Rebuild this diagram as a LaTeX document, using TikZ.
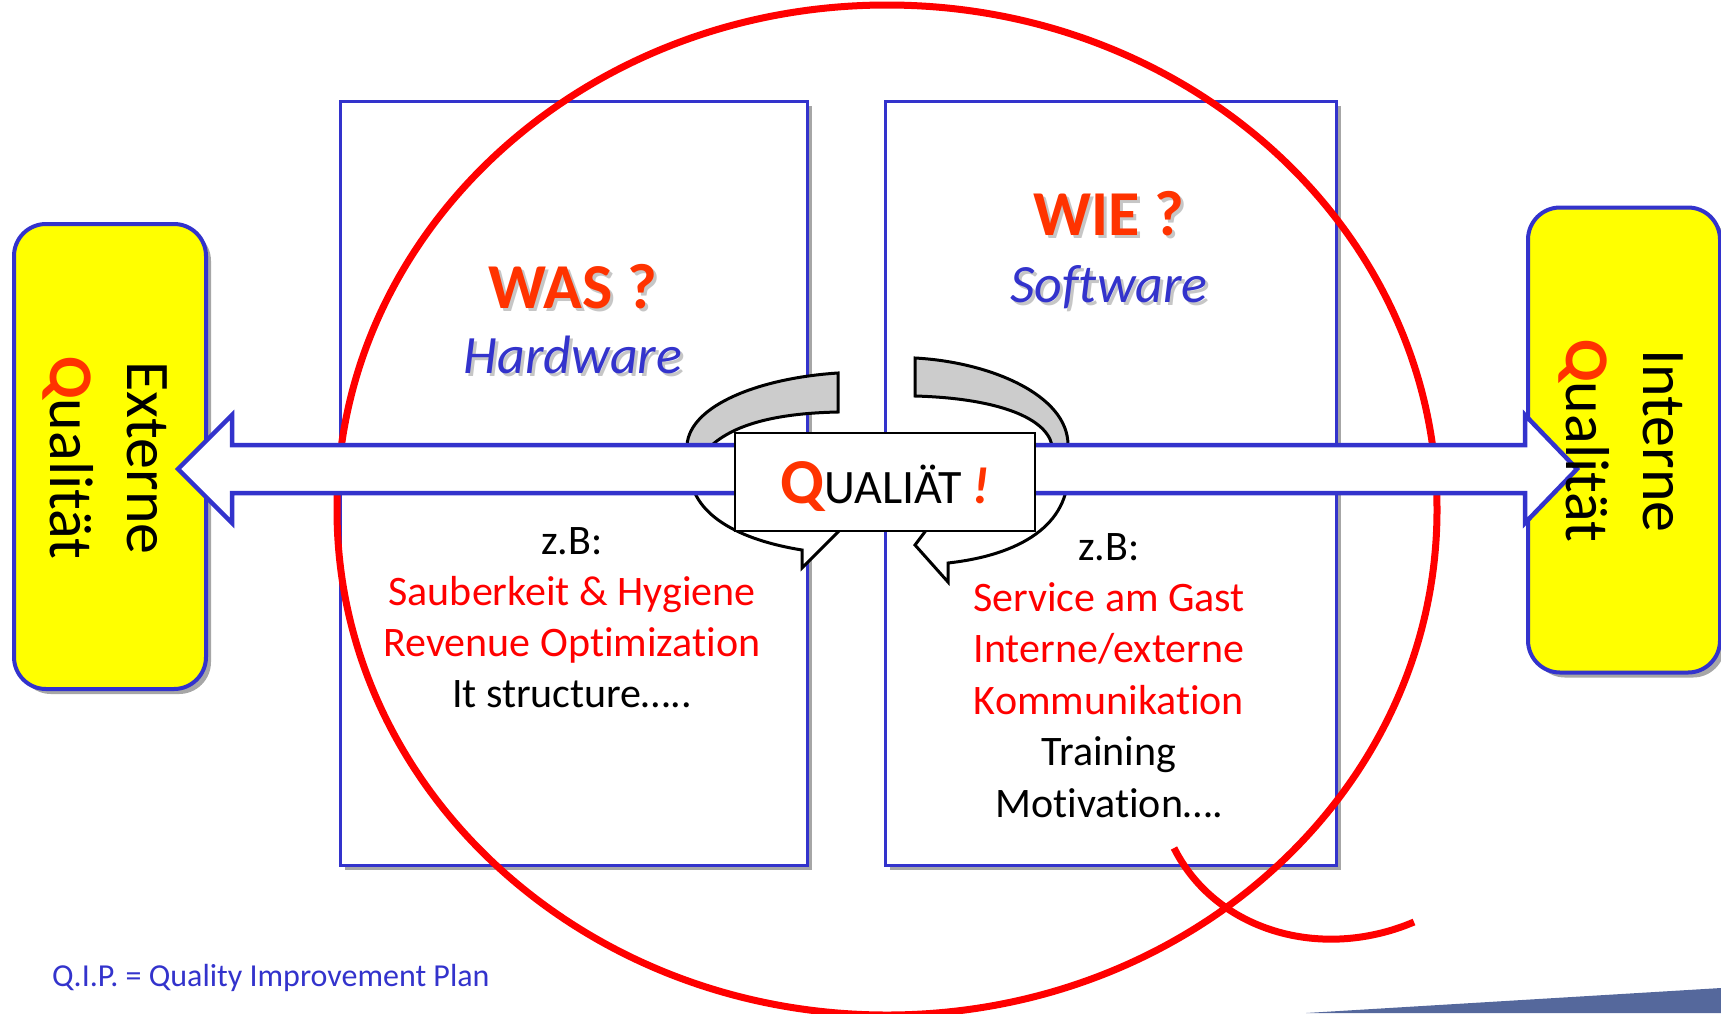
\documentclass[tikz,border=0pt]{standalone}
\usepackage{fontspec}
\setmainfont{Carlito}[Ligatures=NoCommon]
\usepackage{tikz}
\usetikzlibrary{shadows}

\definecolor{qblue}{HTML}{3333CC}
\definecolor{qorange}{HTML}{FF3300}
\definecolor{qyellow}{HTML}{FFFF00}
\definecolor{qband}{HTML}{CCCCCC}
\definecolor{qbar}{HTML}{55689C}

\newcommand{\withshadow}[1]{\makebox[0pt][l]{\hspace{3pt}\raisebox{-3pt}{\textcolor{gray!45}{#1}}}#1}

\begin{document}
\begin{tikzpicture}[x=1pt, y=-1pt,
    panel/.style={draw=qblue, line width=3pt, fill=white, inner sep=0,
      minimum width=#1, minimum height=764,
      drop shadow={shadow xshift=5pt, shadow yshift=-5pt, fill=gray!70, opacity=1}},
    sidebox/.style={draw=qblue, line width=4pt, fill=qyellow, rounded corners=32pt,
      inner sep=0, minimum width=192, minimum height=465,
      drop shadow={shadow xshift=5pt, shadow yshift=-5pt, fill=gray!70, opacity=1}},
    qring/.style={draw=red, line width=7pt},
    band/.style={draw=black, line width=3pt, fill=qband, line join=miter},
    backband/.style={draw=black, line width=3pt, fill=white, line join=miter},
    bigarrow/.style={draw=qblue, line width=4.5pt, fill=white, line join=miter},
    qbox/.style={draw=black, line width=1.5pt, fill=white, inner sep=0,
      minimum width=300, minimum height=98},
    title/.style={anchor=base, inner sep=0, text=qorange,
      font=\bfseries\fontsize{64}{70}\selectfont},
    subtitle/.style={anchor=base, inner sep=0, text=qblue,
      font=\itshape\fontsize{54}{60}\selectfont},
    listline/.style={anchor=base, inner sep=0, font=\fontsize{42}{51}\selectfont},
    sidetext/.style={rotate=-90, align=center, inner sep=0,
      font=\fontsize{62}{77}\selectfont}]
  \useasboundingbox (0,0) rectangle (1721,1013);

  % corner bar
  \fill[qbar] (1306,1013) -- (1721,988) -- (1721,1013) -- cycle;

  % panels
  \node[panel=467] (was) at (573.5,483) {};
  \node[panel=451] (wie) at (1110.5,483) {};

  % side boxes
  \node[sidebox] (ext) at (110,456.5) {};
  \node[sidebox] (int) at (1624,440) {};

  % the big Q
  \draw[qring] (887,510) ellipse [x radius=550pt, y radius=505pt];
  \draw[qring] (1174,848) .. controls (1215,930) and (1320,962) .. (1414,922);

  % circular arrows
  \draw[backband] (690,470) .. controls (690,515) and (740,540) .. (802,550)
    -- (802,568) -- (840,530) -- (745,490) -- cycle;
  \draw[band] (838,373) .. controls (760,378) and (690,405) .. (687,445)
    -- (687,470) -- (712,470) -- (712,445)
    .. controls (740,420) and (790,413) .. (838,412) -- cycle;
  \draw[backband] (1068,470) .. controls (1070,525) and (1020,555) .. (948,563)
    -- (948,582) -- (915,545) -- (930,525) -- (1030,490) -- cycle;
  \draw[band] (915,358) .. controls (990,362) and (1068,395) .. (1068,445)
    -- (1068,470) -- (1052,470) -- (1052,445)
    .. controls (1045,415) and (990,398) .. (915,396) -- cycle;

  % double arrow
  \draw[bigarrow] (178,469) -- (232,415) -- (232,445) -- (1525,445) -- (1525,415)
    -- (1577,469) -- (1525,523) -- (1525,493) -- (232,493) -- (232,523) -- cycle;

  % centre label
  \node[qbox] (qual) at (885,482) {};
  \node[anchor=base, inner sep=0] (qual-txt) at (885,503)
    {{\bfseries\fontsize{64}{64}\selectfont\textcolor{qorange}{Q}}\fontsize{48}{48}\selectfont
     UALIÄT \textcolor{qorange}{\bfseries\itshape\fontsize{52}{52}\selectfont !}};

  % titles
  \node[title] (was-t) at (573,308) {\withshadow{WAS ?}};
  \node[subtitle] (was-s) at (573,373) {\withshadow{Hardware}};
  \node[title] (wie-t) at (1109,235) {\withshadow{WIE ?}};
  \node[subtitle] (wie-s) at (1109,302) {\withshadow{Software}};

  % examples
  \foreach \txt/\col [count=\i from 0] in {z.B:/black, Sauberkeit \& Hygiene/red,
      Revenue Optimization/red, It structure…../black}
    \node[listline, text=\col] (hw-\i) at (572,{554+51*\i}) {\txt};
  \foreach \txt/\col [count=\i from 0] in {z.B:/black, Service am Gast/red,
      {Interne/externe}/red, Kommunikation/red, Training/black, Motivation…./black}
    \node[listline, text=\col] (sw-\i) at (1109,{560+51.4*\i}) {\txt};

  % side labels
  \node[sidetext] (ext-txt) at (105,458) {Externe\\\textcolor{qorange}{\bfseries Q}ualität};
  \node[sidetext] (int-txt) at (1621,441) {Interne\\\textcolor{qorange}{\bfseries Q}ualität};

  \node[anchor=base west, inner sep=0, text=qblue, font=\fontsize{32}{38}\selectfont]
    (qip) at (52,986) {Q.I.P. = Quality Improvement Plan};
\end{tikzpicture}
\end{document}
